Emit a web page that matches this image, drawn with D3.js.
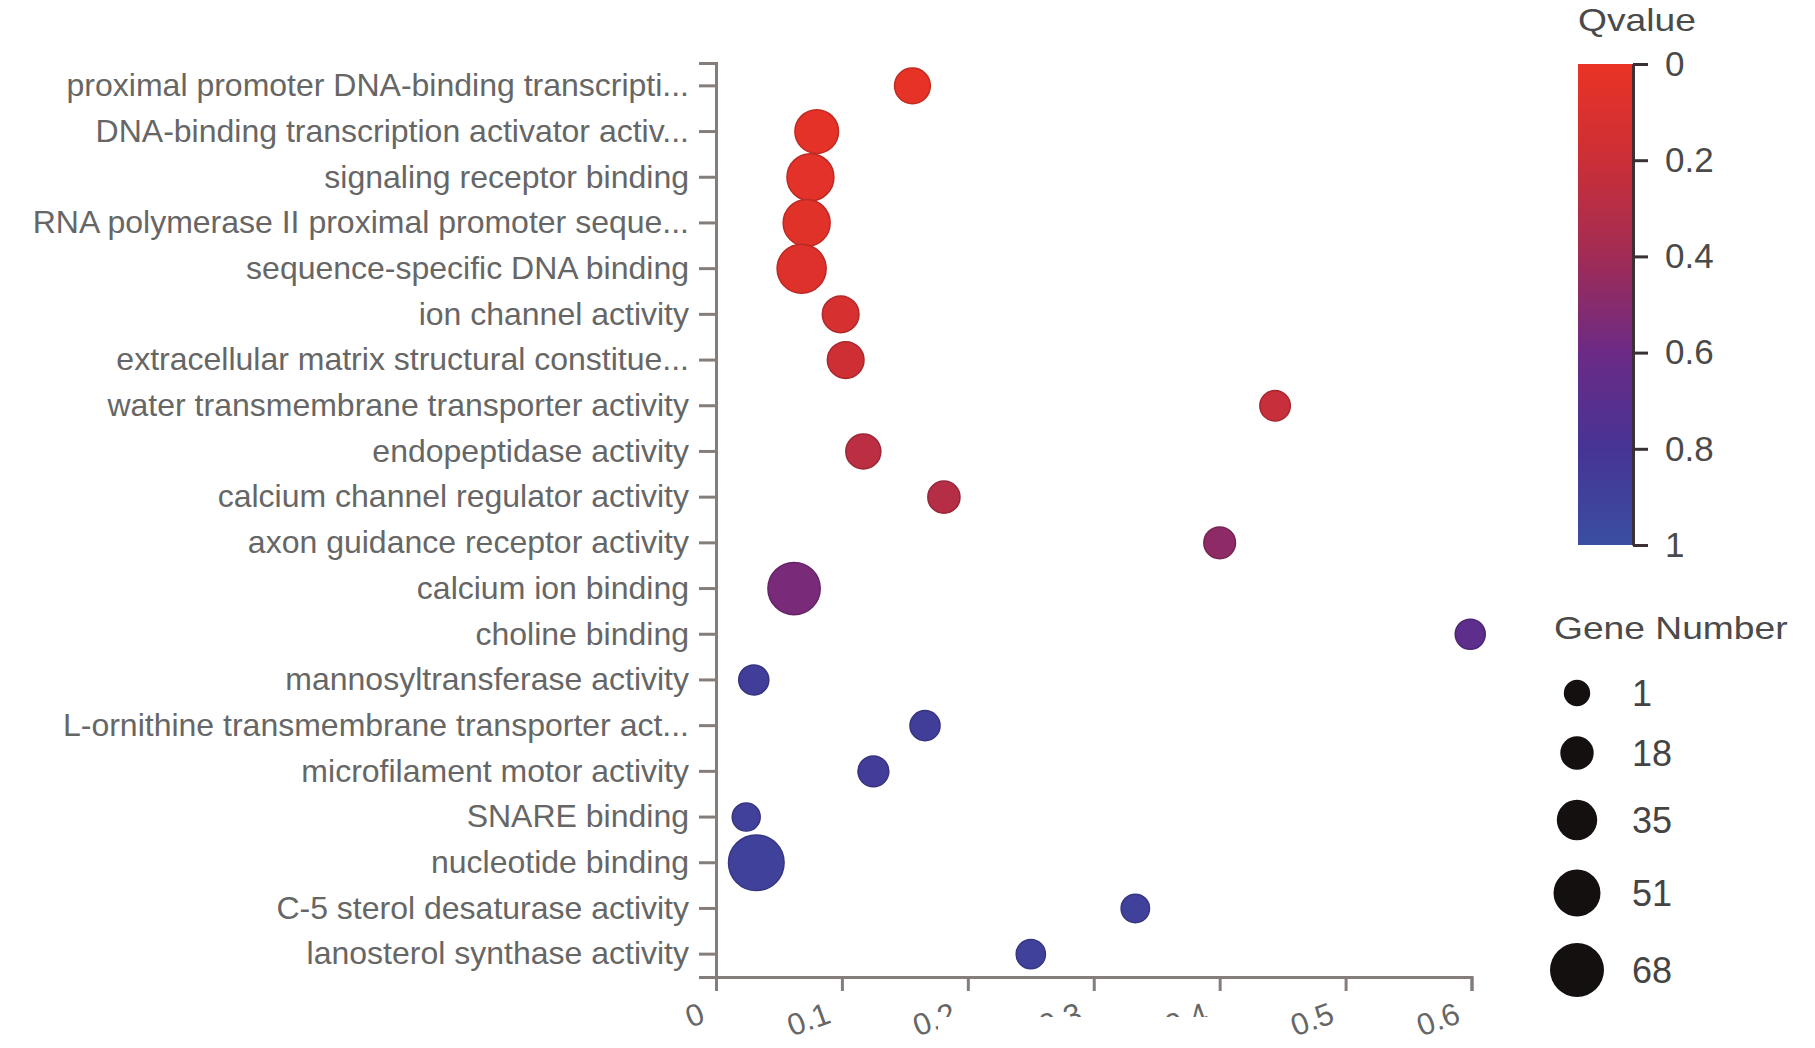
<!DOCTYPE html>
<html>
<head>
<meta charset="utf-8">
<script src="https://cdn.jsdelivr.net/npm/d3@7"></script>
<style>
  body { margin: 0; background: #fff; }
  svg { display: block; font-family: "Liberation Sans", Arial, sans-serif; }
</style>
</head>
<body>
<svg id="chart" width="1815" height="1048"></svg>
<script>
// GO terms, top to bottom
var terms = [
    "proximal promoter DNA-binding transcripti...",
    "DNA-binding transcription activator activ...",
    "signaling receptor binding",
    "RNA polymerase II proximal promoter seque...",
    "sequence-specific DNA binding",
    "ion channel activity",
    "extracellular matrix structural constitue...",
    "water transmembrane transporter activity",
    "endopeptidase activity",
    "calcium channel regulator activity",
    "axon guidance receptor activity",
    "calcium ion binding",
    "choline binding",
    "mannosyltransferase activity",
    "L-ornithine transmembrane transporter act...",
    "microfilament motor activity",
    "SNARE binding",
    "nucleotide binding",
    "C-5 sterol desaturase activity",
    "lanosterol synthase activity"
];
var richFactor = [0.156, 0.080, 0.075, 0.072, 0.068, 0.099, 0.103, 0.444, 0.117, 0.181,
                  0.400, 0.062, 0.599, 0.030, 0.166, 0.125, 0.024, 0.032, 0.333, 0.250];
var qvalue     = [0.02, 0.03, 0.05, 0.06, 0.08, 0.13, 0.18, 0.22, 0.27, 0.30,
                  0.47, 0.55, 0.68, 0.88, 0.88, 0.87, 0.89, 0.90, 0.90, 0.90];
var geneNumber = [20, 39, 47, 47, 52, 22, 22, 7, 18, 11,
                  10, 60, 6, 6, 6, 8, 1, 68, 2, 4];

var xTicks = [0, 0.1, 0.2, 0.3, 0.4, 0.5, 0.6];
var qTicks = [0, 0.2, 0.4, 0.6, 0.8, 1];
var qStops = [0, 0.2, 0.4, 0.6, 0.8, 1];
var qColors = ["#ea3325", "#cb2f37", "#a12c55", "#6c2a86", "#463494", "#3a4ea2"];
var sizeTicks = [1, 18, 35, 51, 68];

var svg = d3.select("#chart");

var x = d3.scaleLinear().domain([0, 0.6]).range([716, 1471.5]);
var y = d3.scaleBand().domain(terms).range([63, 977]);
var color = d3.scaleLinear().domain(qStops).range(qColors).interpolate(d3.interpolateRgb);
var size = d3.scaleLinear().domain([1, 68]).range([14, 27.8]);

var axisColor = "#857d79";
var textColor = "#666";

// clip for the lower x labels (hidden strip in the original), in the x-axis group's coords
var defs = svg.append("defs");
defs.append("clipPath").attr("id", "xlabClip")
    .append("path")
    .attr("clip-rule", "evenodd")
    .attr("d", "M-100,-1000H1900V100H-100Z M938,40H1240V100H938Z");

// y axis
var yAxis = d3.axisLeft(y).tickSize(17).tickSizeOuter(17).tickPadding(10);
var gy = svg.append("g")
    .attr("transform", "translate(716,0)")
    .call(yAxis);
gy.selectAll("path, line").attr("stroke", axisColor).attr("stroke-width", 3);
gy.selectAll("text")
    .attr("fill", textColor)
    .style("font-size", "32px");

// x axis
var xAxis = d3.axisBottom(x).tickValues(xTicks).tickFormat(d3.format("")).tickSize(14).tickSizeOuter(14);
var gx = svg.append("g")
    .attr("transform", "translate(0,977)")
    .call(xAxis);
gx.selectAll("path, line").attr("stroke", axisColor).attr("stroke-width", 3);
gx.selectAll("text")
    .attr("fill", textColor)
    .attr("x", 0).attr("y", 0).attr("dy", 0)
    .style("font-size", "31px")
    .style("text-anchor", "end")
    .attr("transform", "translate(-10,45) rotate(-20)");
gx.attr("clip-path", "url(#xlabClip)");

// dots
var data = terms.map(function(t, i) {
    return {term: t, rf: richFactor[i], q: qvalue[i], n: geneNumber[i]};
});
svg.append("g").selectAll("circle")
    .data(data)
    .enter().append("circle")
    .attr("cx", function(d) { return x(d.rf); })
    .attr("cy", function(d) { return y(d.term) + y.bandwidth() / 2; })
    .attr("r", function(d) { return size(d.n); })
    .attr("fill", function(d) { return color(d.q); })
    .attr("stroke", function(d) { return d3.color(color(d.q)).darker(0.5); })
    .attr("stroke-width", 1.5);

// Qvalue colour bar
var grad = defs.append("linearGradient").attr("id", "qgrad")
    .attr("x1", 0).attr("y1", 0).attr("x2", 0).attr("y2", 1);
grad.selectAll("stop")
    .data(qStops)
    .enter().append("stop")
    .attr("offset", function(d) { return d; })
    .attr("stop-color", function(d, i) { return qColors[i]; });

var cbTop = 64, cbBottom = 545, cbLeft = 1578, cbWidth = 55;
svg.append("rect")
    .attr("x", cbLeft).attr("y", cbTop)
    .attr("width", cbWidth).attr("height", cbBottom - cbTop)
    .attr("fill", "url(#qgrad)");

var qScale = d3.scaleLinear().domain([0, 1]).range([cbTop, cbBottom]);
var gq = svg.append("g")
    .attr("transform", "translate(" + (cbLeft + cbWidth) + ",0)")
    .call(d3.axisRight(qScale).tickValues(qTicks).tickFormat(d3.format(""))
        .tickSize(15).tickSizeOuter(0).tickPadding(17));
gq.selectAll("path, line").attr("stroke", "#3a3036").attr("stroke-width", 3);
gq.selectAll("text").attr("fill", "#4a4a4a").style("font-size", "35px");

svg.append("text")
    .attr("transform", "translate(1637,31) scale(1.2,1)")
    .attr("text-anchor", "middle")
    .attr("fill", "#4a4a4a")
    .style("font-size", "31px")
    .text("Qvalue");

// Gene Number legend
svg.append("text")
    .attr("transform", "translate(1554,639) scale(1.2,1)")
    .attr("fill", "#4a4a4a")
    .style("font-size", "31px")
    .text("Gene Number");

var legY = [693, 753, 820, 893, 970];
var gl = svg.append("g").selectAll("g")
    .data(sizeTicks)
    .enter().append("g")
    .attr("transform", function(d, i) { return "translate(1577," + legY[i] + ")"; });
gl.append("circle")
    .attr("r", function(d) { return size(d) - 0.8; })
    .attr("fill", "#141010");
gl.append("text")
    .attr("x", 55)
    .attr("dy", "0.36em")
    .attr("fill", "#444")
    .style("font-size", "36px")
    .text(function(d) { return d; });
</script>
</body>
</html>
